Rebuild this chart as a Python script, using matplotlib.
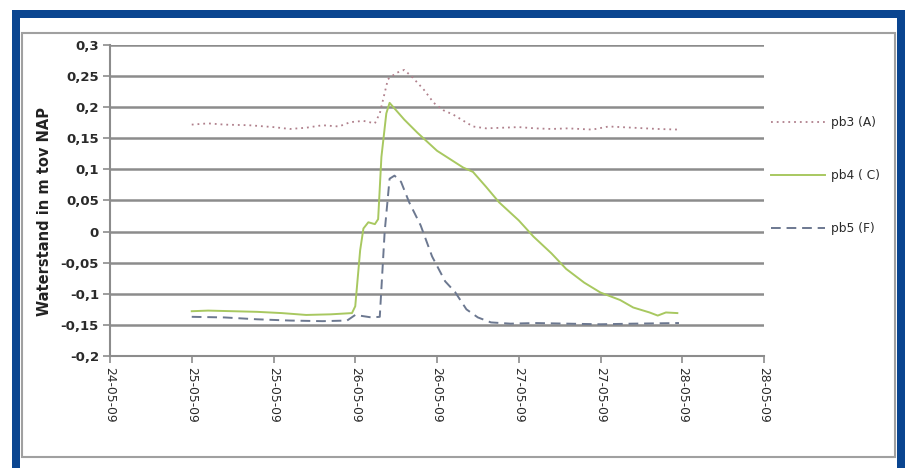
import numpy as np
import matplotlib.pyplot as plt
from matplotlib.patches import Rectangle
from matplotlib.ticker import FuncFormatter, MultipleLocator

# time in days of May 2009 (25.0 = 25-05-09 00:00)
pb3_t = [25.0, 25.1, 25.2, 25.35, 25.5, 25.6, 25.7, 25.8, 25.9, 25.97, 26.05, 26.12,
         26.15, 26.2, 26.25, 26.3, 26.35, 26.42, 26.48, 26.54, 26.6, 26.65, 26.72,
         26.8, 26.9, 27.0, 27.1, 27.2, 27.3, 27.45, 27.55, 27.7, 27.85, 27.98]
pb3_v = [0.172, 0.174, 0.172, 0.171, 0.168, 0.165, 0.167, 0.171, 0.169, 0.176, 0.178, 0.174,
         0.19, 0.245, 0.255, 0.26, 0.248, 0.228, 0.207, 0.195, 0.188, 0.18, 0.169,
         0.166, 0.167, 0.168, 0.166, 0.165, 0.166, 0.164, 0.169, 0.167, 0.165, 0.164]

pb4_t = [25.0, 25.1, 25.25, 25.4, 25.55, 25.7, 25.85, 25.98, 26.0, 26.03, 26.05, 26.08,
         26.12, 26.14, 26.16, 26.19, 26.21, 26.3, 26.38, 26.5, 26.66, 26.72, 26.8, 26.88,
         27.0, 27.09, 27.2, 27.29, 27.4, 27.5, 27.62, 27.7, 27.8, 27.85, 27.9, 27.97]
pb4_v = [-0.128, -0.127, -0.128, -0.129, -0.131, -0.134, -0.133, -0.131, -0.12, -0.03, 0.005, 0.015,
         0.012, 0.02, 0.12, 0.19, 0.207, 0.18, 0.159, 0.13, 0.103, 0.096, 0.072, 0.047,
         0.018, -0.008, -0.035, -0.06, -0.082, -0.098, -0.11, -0.122, -0.13, -0.135, -0.13, -0.131]

pb5_t = [25.0, 25.2, 25.4, 25.6, 25.8, 25.95, 26.0, 26.1, 26.15, 26.18, 26.21, 26.24, 26.28,
         26.33, 26.4, 26.47, 26.55, 26.61, 26.68, 26.75, 26.83, 26.95, 27.1, 27.3, 27.5,
         27.7, 27.98]
pb5_v = [-0.137, -0.138, -0.141, -0.143, -0.144, -0.143, -0.134, -0.138, -0.137, 0.0, 0.085, 0.09, 0.08,
         0.047, 0.01, -0.04, -0.08, -0.097, -0.125, -0.138, -0.146, -0.148, -0.147, -0.148, -0.149,
         -0.148, -0.147]

series_labels = ['pb3 (A)', 'pb4 ( C)', 'pb5 (F)']

W, H = 907, 468
fig = plt.figure(figsize=(W / 100, H / 100), dpi=100)

# blue frame and inner grey chart border
fig.patches.append(Rectangle((12 / W, 0), 893 / W, 1 - 10 / H, transform=fig.transFigure,
                             facecolor='#0a4590', edgecolor='none', zorder=-3))
fig.patches.append(Rectangle((20 / W, 0), 877 / W, 1 - 18 / H, transform=fig.transFigure,
                             facecolor='white', edgecolor='none', zorder=-2))
fig.patches.append(Rectangle((22 / W, 1 - 457 / H), 873 / W, 424 / H, transform=fig.transFigure,
                             facecolor='white', edgecolor='#a0a0a0', linewidth=1.5, zorder=-1))

ax = fig.add_axes([110 / W, 1 - 356 / H, 654 / W, 311 / H], zorder=2)
ax.set_facecolor('none')

ax.plot(pb3_t, pb3_v, color='#b0808c', linestyle=(0, (1, 2.2)), linewidth=1.3, label=series_labels[0])
ax.plot(pb4_t, pb4_v, color='#a8c860', linestyle='-', linewidth=1.4, label=series_labels[1])
ax.plot(pb5_t, pb5_v, color='#6c7890', linestyle=(0, (5, 3)), linewidth=1.4, label=series_labels[2])

ax.set_xlim(24.5, 28.5)
ax.set_ylim(-0.2, 0.3)
ax.xaxis.set_major_locator(MultipleLocator(0.5))
ax.yaxis.set_major_locator(MultipleLocator(0.05))
ax.xaxis.set_major_formatter(FuncFormatter(lambda v, p: f"{int(np.floor(v + 1e-9)):02d}-05-09"))
ax.yaxis.set_major_formatter(FuncFormatter(
    lambda v, p: '0' if abs(v) < 1e-9 else f"{v:.2f}".rstrip('0').replace('.', ',')))

ax.grid(axis='y', color='#8c8c8c', linewidth=1.8)
ax.set_axisbelow(True)
for s in ['top', 'right']:
    ax.spines[s].set_visible(False)
for s in ['left', 'bottom']:
    ax.spines[s].set_color('#8c8c8c')
    ax.spines[s].set_linewidth(1.5)
ax.tick_params(axis='both', colors='#8c8c8c', length=5, width=1.2, labelcolor='#2a2a2a')
ax.tick_params(axis='y', labelsize=9.5, pad=3)
ax.tick_params(axis='x', labelsize=8.8, labelrotation=-90, pad=3)
for t in ax.get_yticklabels():
    t.set_fontweight('bold')

fig.text(45 / W, 1 - 211 / H, 'Waterstand in m tov NAP', rotation=90, ha='center', va='center',
         fontsize=10.5, fontweight='bold', color='#222222')

leg = ax.legend(loc='center left', bbox_to_anchor=(1.0, 0.58), frameon=False, fontsize=8.8,
                handlelength=4.4, handletextpad=0.5, labelspacing=3.3, borderaxespad=0.2)
for t in leg.get_texts():
    t.set_color('#2a2a2a')

fig.savefig('out.png', dpi=100)
